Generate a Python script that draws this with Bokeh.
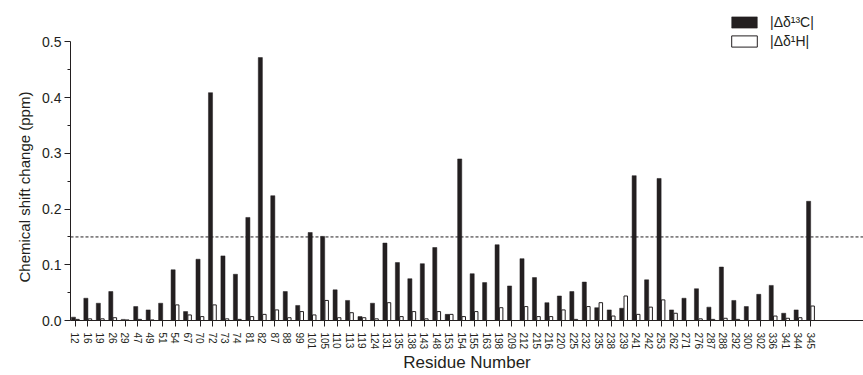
from bokeh.plotting import figure
from bokeh.models import (FixedTicker, Span, Legend, LegendItem, ColumnDataSource,
                          Range1d, PrintfTickFormatter, Title)
from bokeh.transform import dodge
from bokeh.embed import file_html
from bokeh.resources import INLINE

residues = [12, 16, 19, 26, 29, 47, 49, 51, 54, 67, 70, 72, 73, 74, 81, 82, 87, 88, 99, 101,
            105, 110, 113, 119, 124, 131, 135, 138, 143, 148, 153, 154, 155, 163, 198, 209,
            212, 215, 216, 220, 225, 232, 235, 238, 239, 241, 242, 253, 262, 271, 276, 287,
            288, 292, 300, 302, 336, 341, 344, 345]

delta_c = [0.006, 0.040, 0.031, 0.052, 0.002, 0.025, 0.019, 0.031, 0.091, 0.016,
           0.110, 0.409, 0.116, 0.083, 0.185, 0.472, 0.224, 0.052, 0.027, 0.158,
           0.151, 0.055, 0.036, 0.007, 0.031, 0.139, 0.104, 0.075, 0.102, 0.131,
           0.011, 0.290, 0.084, 0.068, 0.136, 0.062, 0.111, 0.077, 0.032, 0.044,
           0.052, 0.069, 0.023, 0.019, 0.022, 0.260, 0.073, 0.255, 0.019, 0.040,
           0.057, 0.024, 0.096, 0.036, 0.025, 0.047, 0.063, 0.013, 0.019, 0.214]

delta_h = [0.002, 0.003, 0.003, 0.005, 0.001, 0.002, 0.001, 0.000, 0.028, 0.010,
           0.007, 0.028, 0.003, 0.002, 0.007, 0.011, 0.019, 0.005, 0.016, 0.010,
           0.036, 0.005, 0.014, 0.005, 0.003, 0.032, 0.007, 0.016, 0.003, 0.016,
           0.011, 0.007, 0.016, 0.000, 0.023, 0.000, 0.025, 0.007, 0.007, 0.019,
           0.002, 0.025, 0.032, 0.008, 0.044, 0.011, 0.024, 0.037, 0.013, 0.000,
           0.003, 0.002, 0.004, 0.002, 0.000, 0.000, 0.008, 0.004, 0.005, 0.026]

y_ticks = [0.0, 0.1, 0.2, 0.3, 0.4, 0.5]
y_minor = [0.05, 0.15, 0.25, 0.35, 0.45]
threshold = 0.15

FONT = "Liberation Sans"
DARK = "#231f20"

idx = list(range(len(residues)))
src = ColumnDataSource(dict(x=idx, c=delta_c, h=delta_h))

p = figure(width=863, height=375, output_backend="svg", toolbar_location=None,
           x_range=Range1d(-0.4, 63.24), y_range=Range1d(0, 0.5655),
           min_border_left=70, min_border_right=0, min_border_top=5, min_border_bottom=55)
p.outline_line_color = None
p.xgrid.visible = False
p.ygrid.visible = False
p.background_fill_color = "white"
p.border_fill_color = "white"

rc = p.vbar(x=dodge("x", -0.165, range=p.x_range), top="c", width=0.33, source=src,
            fill_color=DARK, line_color=DARK, line_width=0.5)
rh = p.vbar(x=dodge("x", 0.16, range=p.x_range), top="h", width=0.28, source=src,
            fill_color="white", line_color=DARK, line_width=1)

p.add_layout(Span(location=threshold, dimension="width", line_color=DARK,
                  line_dash="3 2", line_width=1))

# x axis
xa = p.xaxis[0]
xa.ticker = FixedTicker(ticks=idx)
xa.major_label_overrides = {i: str(r) for i, r in zip(idx, residues)}
xa.major_label_orientation = "vertical"
xa.major_label_text_font = FONT
xa.major_label_text_font_size = "10px"
xa.major_label_text_color = DARK
xa.major_label_standoff = 6
xa.major_tick_out = 6
xa.major_tick_in = 0
xa.minor_tick_out = 0
xa.minor_tick_in = 0
xa.axis_line_color = DARK
xa.major_tick_line_color = DARK
xa.axis_label = "Residue Number"
xa.axis_label_text_font = FONT
xa.axis_label_text_font_size = "17px"
xa.axis_label_text_font_style = "normal"
xa.axis_label_text_color = DARK
xa.axis_label_standoff = 1

# y axis
ya = p.yaxis[0]
ya.bounds = (0, 0.5)
ya.ticker = FixedTicker(ticks=y_ticks, minor_ticks=y_minor)
ya.formatter = PrintfTickFormatter(format="%.1f")
ya.major_label_text_font = FONT
ya.major_label_text_font_size = "14px"
ya.major_label_text_color = DARK
ya.major_label_standoff = 3
ya.major_tick_out = 6
ya.major_tick_in = 0
ya.minor_tick_out = 3
ya.minor_tick_in = 0
ya.axis_line_color = DARK
ya.major_tick_line_color = DARK
ya.minor_tick_line_color = DARK

ylabel = Title(text="Chemical shift change (ppm)", align="left", offset=38,
               text_font=FONT, text_font_size="15px", text_font_style="normal",
               text_color=DARK, standoff=14)
p.add_layout(ylabel, "left")

legend = Legend(items=[LegendItem(label="|Δδ¹³C|", renderers=[rc]),
                       LegendItem(label="|Δδ¹H|", renderers=[rh])],
                location=(658, 271))
legend.glyph_width = 32
legend.glyph_height = 14
legend.label_height = 14
legend.spacing = 3
legend.padding = 0
legend.margin = 0
legend.label_standoff = 10
legend.label_text_font = FONT
legend.label_text_font_size = "14px"
legend.label_text_color = DARK
legend.border_line_color = None
legend.background_fill_alpha = 0
p.add_layout(legend, "center")

open("out.html", "w").write(file_html(p, INLINE))
